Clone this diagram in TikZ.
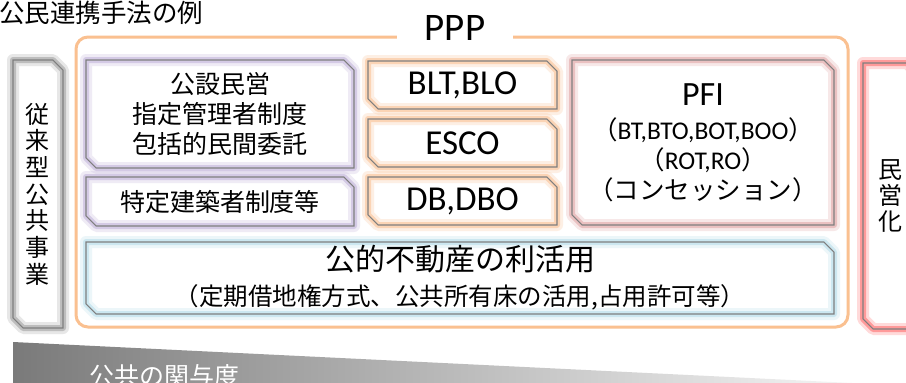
\documentclass[tikz,border=0pt]{standalone}
\usepackage{fontspec}
\setmainfont{Carlito}
\newfontfamily\jp{Noto Sans CJK JP}
\usetikzlibrary{shapes.misc}
\definecolor{boxline}{HTML}{7F7F7F}
\definecolor{pppor}{HTML}{FAC090}
\definecolor{gpur}{HTML}{CBC0E0}
\definecolor{gora}{HTML}{FBCBA6}
\definecolor{gpink}{HTML}{E6B5B5}
\definecolor{gblue}{HTML}{C2E3EE}
\definecolor{gred}{HTML}{FF8585}
\definecolor{ggray}{HTML}{B0B0B0}
\definecolor{wedgedark}{HTML}{7A7A7A}
\begin{document}
\begin{tikzpicture}[x=1pt,y=-1pt,
  cbox/.style={chamfered rectangle,
    chamfered rectangle corners={north east,south west},
    chamfered rectangle xsep=7pt, inner sep=0pt, outer sep=0pt, align=center,
    preaction={fill=white},
    preaction={draw=#1, line width=12pt, opacity=.3, line join=round},
    preaction={draw=#1, line width=6pt, opacity=.75, line join=round},
    draw=boxline, line width=1.1pt},
  pppbox/.style={rectangle, draw=pppor, line width=3pt, rounded corners=12pt, inner sep=0pt}
]
\clip (0,0) rectangle (906,383);
\fill[white] (0,0) rectangle (906,383);

% title
\node[anchor=west, inner sep=0pt, font=\jp\fontsize{25.5}{28}\selectfont] (title) at (-1,13) {公民連携手法の例};

% outer PPP frame
\node[pppbox, minimum width=772pt, minimum height=290pt] (ppp) at (462,182) {};
\node[fill=white, inner xsep=28pt, inner ysep=0pt, font=\fontsize{39}{42}\selectfont] (ppplabel) at (455,28) {PPP};

% left and right boxes
\node[cbox=ggray, minimum width=50pt, minimum height=268pt, font=\jp\fontsize{24}{26.7}\selectfont] (trad) at (38,194)
  {従\\来\\型\\公\\共\\事\\業};
\node[cbox=gred, minimum width=54pt, minimum height=266pt, font=\jp\fontsize{24}{26}\selectfont] (priv) at (890,196)
  {民\\営\\化};

% inner boxes
\node[cbox=gpur, minimum width=268pt, minimum height=108pt, font=\jp\fontsize{25}{30}\selectfont] (kousetsu) at (220,114)
  {公設民営\\指定管理者制度\\包括的民間委託};
\node[cbox=gpur, minimum width=268pt, minimum height=49pt, font=\jp\fontsize{25}{30}\selectfont] (tokutei) at (220,201.5)
  {特定建築者制度等};

\node[cbox=gora, minimum width=189pt, minimum height=48pt, font=\fontsize{35}{38}\selectfont] (blt) at (462.5,85) {BLT,BLO};
\node[cbox=gora, minimum width=189pt, minimum height=48pt, font=\fontsize{35}{38}\selectfont] (esco) at (462.5,143) {ESCO};
\node[cbox=gora, minimum width=189pt, minimum height=48pt, font=\fontsize{35}{38}\selectfont] (db) at (462.5,201) {DB,DBO};

\node[cbox=gpink, minimum width=262pt, minimum height=165pt, font=\fontsize{25.5}{30}\selectfont] (pfi) at (703,142.5)
  {{\fontsize{34}{34}\selectfont PFI}\\[4pt]
   {\jp （}BT,BTO,BOT,BOO{\jp ）}\\
   {\jp （}ROT,RO{\jp ）}\\
   {\jp （コンセッション）}};

\node[cbox=gblue, minimum width=748pt, minimum height=72pt, font=\jp\fontsize{24.5}{35}\selectfont] (pre) at (460,278)
  {{\fontsize{30}{30}\selectfont 公的不動産の利活用}\\
   （定期借地権方式、公共所有床の活用,占用許可等）};

% bottom wedge
\shade[left color=wedgedark, right color=white!96!black] (13,342) -- (852,383) -- (13,383) -- cycle;
\node[anchor=west, inner sep=0pt, text=white, font=\jp\fontsize{25}{28}\selectfont] (kanyo) at (89,376) {公共の関与度};
\end{tikzpicture}
\end{document}
